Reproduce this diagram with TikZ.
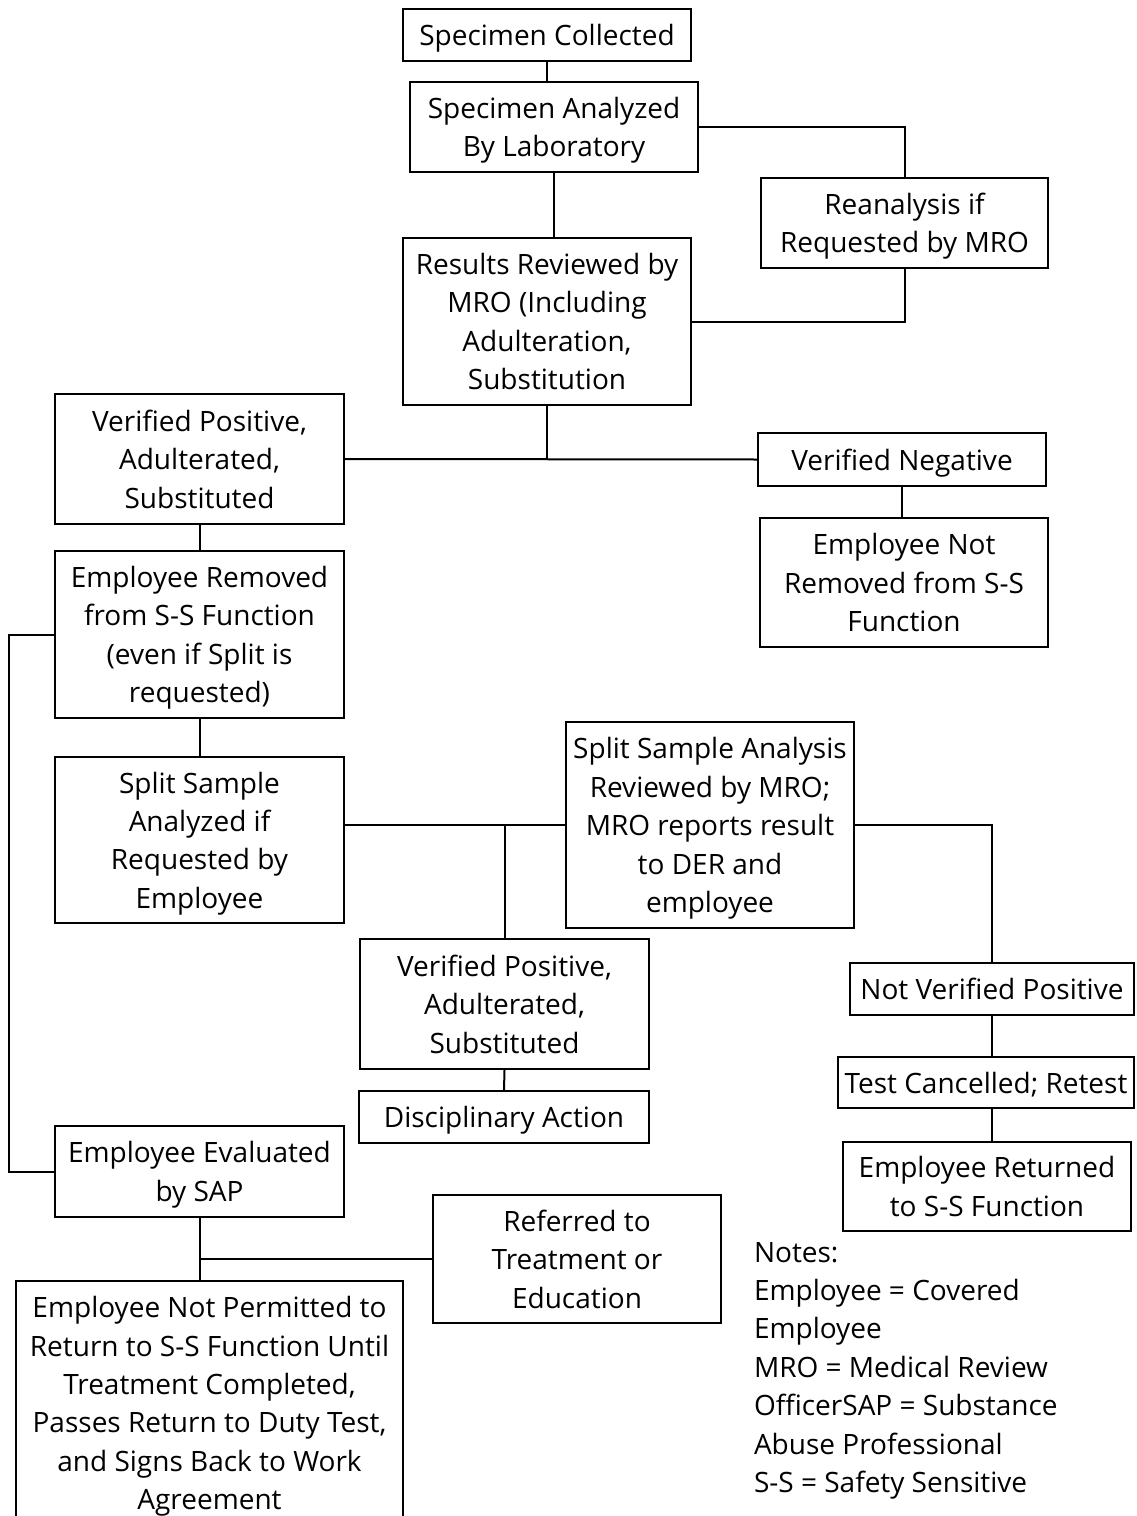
\documentclass[tikz,border=0pt]{standalone}
\usepackage{fontspec}
\setmainfont{Open Sans}
\usetikzlibrary{calc}

\tikzset{every picture/.style={line width=1.5pt}}
\tikzset{
  box/.style 2 args={draw, rectangle, align=center, inner sep=0pt, text depth=0pt,
    minimum width=#1*0.75pt, minimum height=#2*0.75pt},
  thinbox/.style={line width=0.9pt}
}

\begin{document}
\begin{tikzpicture}[x=0.75pt,y=0.75pt,yscale=-1,xscale=1,
  font=\fontsize{21}{28.8}\selectfont]
	%set diagram to 1136 x 1516
	\useasboundingbox (0,0) rectangle (1136,1516);
	\clip (0,0) rectangle (1136,1516);
	
	% Top column
	\node [box={288}{52}] (coll) at (547,35) {Specimen Collected};
	\node [box={288}{90}] (lab) at (554,127) {Specimen Analyzed\\By Laboratory};
	\node [box={287}{90}] (rean) at (904.5,223) {Reanalysis if\\Requested by MRO};
	\node [box={288}{167}] (review) at (547,321.5) {Results Reviewed by\\MRO (Including\\Adulteration,\\Substitution};
	
	% First result
	\node [box={289}{130}] (pos) at (199.5,459) {Verified Positive,\\Adulterated,\\Substituted};
	\node [box={288}{53}] (neg) at (902,459.5) {Verified Negative};
	\node [box={288}{129}] (notrem) at (904,582.5) {Employee Not\\Removed from S-S\\Function};
	\node [box={289}{167}] (removed) at (199.5,634.5) {Employee Removed\\from S-S Function\\(even if Split is\\requested)};
	
	% Split sample
	\node [box={289}{166}] (split) at (199.5,840) {Split Sample\\Analyzed if\\Requested by\\Employee};
	\node [box={288}{206}] (splitrev) at (710,825) {Split Sample Analysis\\Reviewed by MRO;\\MRO reports result\\to DER and\\employee};
	\node [box={289}{130}] (pos2) at (504.5,1004) {Verified Positive,\\Adulterated,\\Substituted};
	\node [box={290}{52}] (disc) at (504,1117) {Disciplinary Action};
	\node [box={284}{52}] (notver) at (992,989) {Not Verified Positive};
	\node [box={296}{51},thinbox] (cancel) at (986,1082.5) {Test Cancelled; Retest};
	\node [box={288}{89}] (returned) at (987,1186.5) {Employee Returned\\to S-S Function};
	
	% SAP
	\node [box={289}{91}] (eval) at (199.5,1171.5) {Employee Evaluated\\by SAP};
	\node [box={288}{128}] (refer) at (577,1259) {Referred to\\Treatment or\\Education};
	\node [box={387}{244}] (notperm) at (209.5,1403) {Employee Not Permitted to\\Return to S-S Function Until\\Treatment Completed,\\Passes Return to Duty Test,\\and Signs Back to Work\\Agreement};
	
	% Notes
	\node [anchor=north west, align=left, inner sep=0pt] (notes) at (753,1241) {Notes:\\Employee = Covered\\Employee\\MRO = Medical Review\\OfficerSAP = Substance\\Abuse Professional\\S-S = Safety Sensitive};
	
	%Straight Lines
	\draw (coll.south) -- (coll.south |- lab.north);
	\draw (lab.south) -- (lab.south |- review.north);
	\draw (lab.east) -| (rean.north);
	\draw (rean.south) |- (review.east);
	\draw (review.south) -- (review.south |- pos.east);
	\draw (pos.east) -- (neg.west);
	\draw (neg.south) -- (neg.south |- notrem.north);
	\draw (pos.south) -- (removed.north);
	\draw (removed.west) -- ++(-45,0) |- (eval.west);
	\draw (removed.south) -- (split.north);
	\draw (splitrev.west) -- (splitrev.west -| split.east);
	\draw (pos2.north) -- (pos2.north |- splitrev.west);
	\draw (splitrev.east) -| (notver.north);
	\draw (notver.south) -- (notver.south |- cancel.north);
	\draw (cancel.south -| notver.south) -- (notver.south |- returned.north);
	\draw (pos2.south) -- (disc.north);
	\draw (eval.south) -- (eval.south |- notperm.north);
	\draw (refer.west) -- (refer.west -| eval.south);
	
\end{tikzpicture}
\end{document}
